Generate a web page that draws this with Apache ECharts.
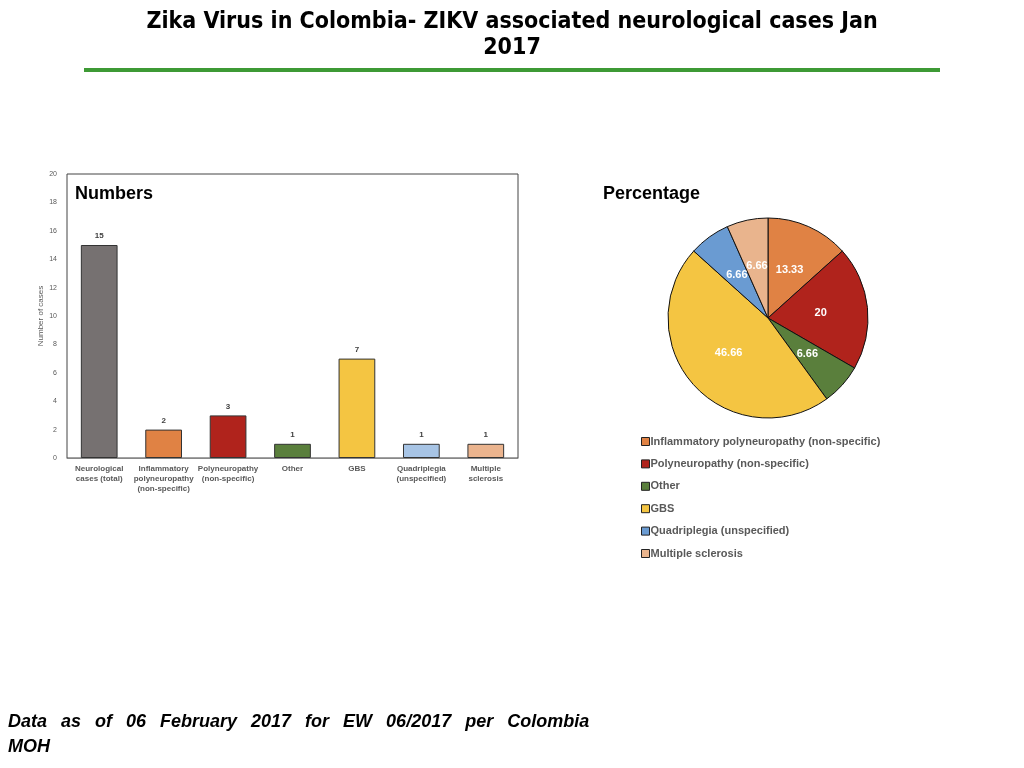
<!DOCTYPE html>
<html>
<head>
<meta charset="utf-8">
<script src="https://cdn.jsdelivr.net/npm/echarts@6/dist/echarts.min.js"></script>
<style>
  html, body { margin: 0; padding: 0; background: #fff; }
  #main { width: 1024px; height: 768px; }
</style>
</head>
<body>
<div id="main"></div>
<script>
// bar chart data (left panel)
const categories = ['Neurological\ncases (total)', 'Inflammatory\npolyneuropathy\n(non-specific)', 'Polyneuropathy\n(non-specific)', 'Other', 'GBS', 'Quadriplegia\n(unspecified)', 'Multiple\nsclerosis'];
const caseCounts = [15, 2, 3, 1, 7, 1, 1];
const barColors = ['#767171', '#E08244', '#B0231C', '#5A7F3C', '#F4C542', '#A7C4E5', '#EBB48E'];

// pie chart data (right panel)
const pieNames = ['Inflammatory polyneuropathy (non-specific)', 'Polyneuropathy (non-specific)', 'Other', 'GBS', 'Quadriplegia (unspecified)', 'Multiple sclerosis'];
const piePercents = [13.33, 20, 6.66, 46.66, 6.66, 6.66];
const pieColors = ['#E08244', '#B0231C', '#5A7F3C', '#F4C542', '#6A9BD2', '#E9B48D'];

const yTicks = { min: 0, max: 20, interval: 2 };

const footnote = 'Data as of 06 February 2017 for EW 06/2017 per Colombia';

// justified first line: each gap between words is a fixed-width rich segment
const footRich = footnote.split(' ').map(w => '{w|' + w + '}').join('{g|}') + '\n{w|MOH}';

const chart = echarts.init(document.getElementById('main'));

const option = {
  animation: false,
  textStyle: { fontFamily: 'Liberation Sans, Arial, sans-serif' },
  title: [
    {
      text: 'Zika Virus in Colombia- ZIKV associated neurological cases Jan\n2017',
      left: 'center',
      top: 4,
      textStyle: {
        fontFamily: 'Liberation Sans Narrow, Arial Narrow, DejaVu Sans Condensed, Liberation Sans, sans-serif',
        fontSize: 23,
        fontWeight: 'bold',
        color: '#000',
        lineHeight: 26
      }
    },
    {
      text: 'Numbers',
      left: 70,
      top: 180,
      textStyle: { fontSize: 18, fontWeight: 'bold', color: '#000' }
    },
    {
      text: 'Percentage',
      left: 598,
      top: 180,
      textStyle: { fontSize: 18, fontWeight: 'bold', color: '#000' }
    }
  ],
  graphic: [
    {
      type: 'rect',
      shape: { x: 84, y: 68, width: 856, height: 4 },
      style: { fill: '#3E9A35' }
    },
    {
      type: 'text',
      left: 8,
      top: 713,
      style: {
        text: footRich,
        rich: {
          w: { fontSize: 18, fontWeight: 'bold', fontStyle: 'italic', fill: '#000', lineHeight: 25, fontFamily: 'Liberation Sans, Arial, sans-serif' },
          g: { width: 14, lineHeight: 25 }
        }
      }
    }
  ],
  grid: {
    left: 67,
    top: 174,
    width: 451,
    height: 284,
    show: true,
    borderColor: '#444',
    borderWidth: 1
  },
  xAxis: {
    type: 'category',
    data: categories,
    axisLine: { lineStyle: { color: '#888' } },
    axisTick: { show: false },
    axisLabel: {
      interval: 0,
      fontSize: 8,
      fontWeight: 'bold',
      color: '#595959',
      lineHeight: 10,
      margin: 6
    }
  },
  yAxis: {
    type: 'value',
    min: yTicks.min,
    max: yTicks.max,
    interval: yTicks.interval,
    name: 'Number of cases',
    nameLocation: 'middle',
    nameGap: 22,
    nameTextStyle: { fontSize: 8, color: '#595959' },
    axisLine: { show: false },
    axisTick: { show: false },
    splitLine: { show: false },
    axisLabel: { fontSize: 7, color: '#595959', margin: 10 }
  },
  legend: {
    data: pieNames,
    orient: 'vertical',
    left: 636,
    top: 431,
    itemWidth: 8,
    itemHeight: 8,
    itemGap: 11.4,
    icon: 'rect',
    itemStyle: { borderColor: '#222', borderWidth: 1 },
    textStyle: { fontSize: 11, fontWeight: 'bold', color: '#595959', padding: [0, 0, 0, -4] }
  },
  series: [
    {
      type: 'bar',
      barWidth: '57%',
      data: caseCounts.map((v, i) => ({
        value: v,
        itemStyle: { color: barColors[i], borderColor: '#333', borderWidth: 1 }
      })),
      label: {
        show: true,
        position: 'top',
        distance: 5,
        fontSize: 8,
        fontWeight: 'bold',
        color: '#404040'
      }
    },
    {
      type: 'pie',
      center: [768, 318],
      radius: 100,
      startAngle: 90,
      clockwise: true,
      data: pieNames.map((n, i) => ({
        name: n,
        value: piePercents[i],
        itemStyle: { color: pieColors[i] }
      })),
      itemStyle: { borderColor: '#111', borderWidth: 1 },
      label: {
        show: true,
        position: 'inner',
        formatter: '{c}',
        color: '#fff',
        fontSize: 11,
        fontWeight: 'bold'
      },
      labelLayout: { hideOverlap: false },
      labelLine: { show: false }
    }
  ]
};

chart.setOption(option);
</script>
</body>
</html>
